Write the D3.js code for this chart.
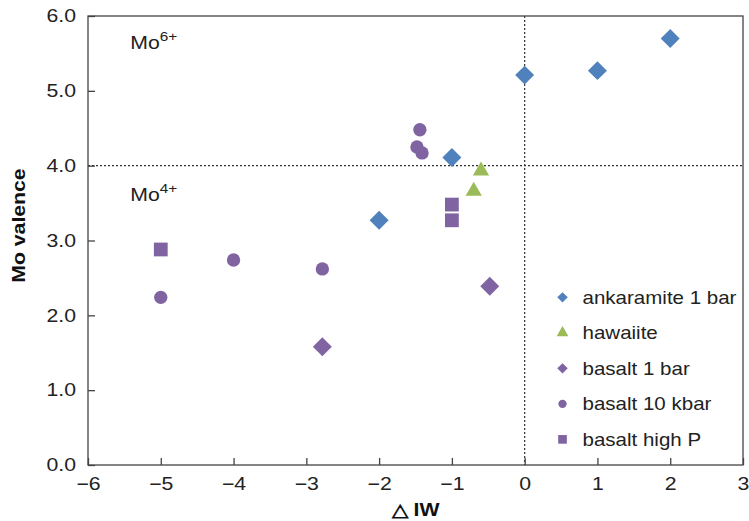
<!DOCTYPE html>
<html>
<head>
<meta charset="utf-8">
<script src="https://cdn.jsdelivr.net/npm/d3@7"></script>
<style>
  body { margin: 0; background: #fff; }
  svg { font-family: 'Liberation Sans', Arial, sans-serif; }
</style>
</head>
<body>
<svg id="chart" width="749" height="521"></svg>
<script>
// series: [deltaIW, Mo valence]
var ankaramite = [[-2, 3.27], [-1, 4.11], [0, 5.21], [1, 5.27], [2, 5.7]];
var hawaiite = [[-0.6, 3.93], [-0.7, 3.66]];
var basalt1bar = [[-2.78, 1.58], [-0.48, 2.39]];
var basalt10kbar = [[-5, 2.24], [-4, 2.74], [-2.78, 2.62], [-1.44, 4.48], [-1.48, 4.25], [-1.41, 4.17]];
var basaltHighP = [[-5, 2.88], [-1, 3.48], [-1, 3.27]];

var seriesNames = ['ankaramite 1 bar', 'hawaiite', 'basalt 1 bar', 'basalt 10 kbar', 'basalt high P'];
var xTicks = [-6, -5, -4, -3, -2, -1, 0, 1, 2, 3];
var yTicks = [0, 1, 2, 3, 4, 5, 6];

var margin = { top: 16, right: 6, bottom: 56, left: 88 };
var width = 749 - margin.left - margin.right;
var height = 521 - margin.top - margin.bottom;

var svg = d3.select('#chart');
var g = svg.append('g').attr('transform', `translate(${margin.left},${margin.top})`);

var x = d3.scaleLinear().domain([-6, 3]).range([0, width]);
var y = d3.scaleLinear().domain([0, 6]).range([height, 0]);

// the original type is a bit wider than Liberation Sans
function stretch(sel, origin, k) {
  sel.style('transform-box', 'fill-box')
     .style('transform-origin', origin)
     .style('transform', `scaleX(${k || 1.18})`);
}

var series = [
  { name: seriesNames[0], data: ankaramite, shape: d3.symbolSquare, rot: 45, color: '#4f81bd', size: 180, lsize: 55 },
  { name: seriesNames[1], data: hawaiite, shape: d3.symbolTriangle, rot: 0, color: '#9bbb59', size: 115, lsize: 60 },
  { name: seriesNames[2], data: basalt1bar, shape: d3.symbolSquare, rot: 45, color: '#8064a2', size: 180, lsize: 55 },
  { name: seriesNames[3], data: basalt10kbar, shape: d3.symbolCircle, rot: 0, color: '#8064a2', size: 140, lsize: 55 },
  { name: seriesNames[4], data: basaltHighP, shape: d3.symbolSquare, rot: 0, color: '#8064a2', size: 190, lsize: 75 }
];

// reference lines
g.append('line')
  .attr('x1', 0).attr('x2', width)
  .attr('y1', y(4)).attr('y2', y(4))
  .attr('stroke', '#333').attr('stroke-width', 1.2).attr('stroke-dasharray', '2,2');
g.append('line')
  .attr('x1', x(0)).attr('x2', x(0))
  .attr('y1', 0).attr('y2', height)
  .attr('stroke', '#333').attr('stroke-width', 1.2).attr('stroke-dasharray', '2,2');

// frame
g.append('rect')
  .attr('width', width).attr('height', height)
  .attr('fill', 'none').attr('stroke', '#444').attr('stroke-width', 1.3);

// axes with inward ticks
var xAxis = g.append('g').attr('transform', `translate(0,${height})`)
  .call(d3.axisBottom(x).tickValues(xTicks).tickSize(-7).tickPadding(12)
    .tickFormat(d => d < 0 ? '\u2212' + Math.abs(d) : d));
var yAxis = g.append('g')
  .call(d3.axisLeft(y).tickValues(yTicks).tickSize(-7).tickPadding(12).tickFormat(d3.format('.1f')));

[xAxis, yAxis].forEach(function(a) {
  a.select('.domain').remove();
  a.selectAll('.tick line').attr('stroke', '#444').attr('stroke-width', 1.3);
  a.selectAll('.tick text').attr('font-size', 18).attr('fill', '#222')
    .attr('font-family', "'Liberation Sans', Arial, sans-serif");
});
xAxis.selectAll('.tick text').attr('dy', '0.71em').call(stretch, 'center');
yAxis.selectAll('.tick text').call(stretch, 'right center');

// points
series.forEach(function(s) {
  g.append('g').selectAll('path').data(s.data).enter().append('path')
    .attr('d', d3.symbol().type(s.shape).size(s.size))
    .attr('transform', d => `translate(${x(d[0])},${y(d[1])}) rotate(${s.rot})`)
    .attr('fill', s.color);
});

// Mo labels
var moLabels = [{ t: 'Mo', sup: '6+', v: 5.6 }, { t: 'Mo', sup: '4+', v: 3.57 }];
moLabels.forEach(function(m) {
  var txt = g.append('text').attr('x', x(-5.42)).attr('y', y(m.v) + 3)
    .attr('font-size', 18).attr('fill', '#222');
  txt.append('tspan').text(m.t);
  txt.append('tspan').attr('dy', -8).attr('font-size', 13).text(m.sup);
  txt.call(stretch, 'left center');
});

// legend
var legend = g.append('g').attr('transform', `translate(${x(0.52)},${y(2.24)})`);
series.forEach(function(s, i) {
  var row = legend.append('g').attr('transform', `translate(0,${i * 35.5})`);
  row.append('path')
    .attr('d', d3.symbol().type(s.shape).size(s.lsize))
    .attr('transform', `rotate(${s.rot})`)
    .attr('fill', s.color);
  row.append('text').attr('x', 20).attr('y', 6.5)
    .attr('font-size', 18).attr('fill', '#222').text(s.name)
    .call(stretch, 'left center', 1.14);
});

// axis titles
svg.append('g')
  .attr('transform', `translate(25,${margin.top + y(3.2)}) rotate(-90)`)
  .append('text')
  .attr('text-anchor', 'middle')
  .attr('font-size', 18).attr('font-weight', 'bold').attr('fill', '#111')
  .text('Mo valence')
  .call(stretch, 'center');

svg.append('text')
  .attr('x', margin.left + x(-1.5)).attr('y', 516)
  .attr('text-anchor', 'middle')
  .attr('font-size', 18).attr('font-weight', 'bold').attr('fill', '#111')
  .text('\u25B3 IW')
  .call(stretch, 'center');
</script>
</body>
</html>
